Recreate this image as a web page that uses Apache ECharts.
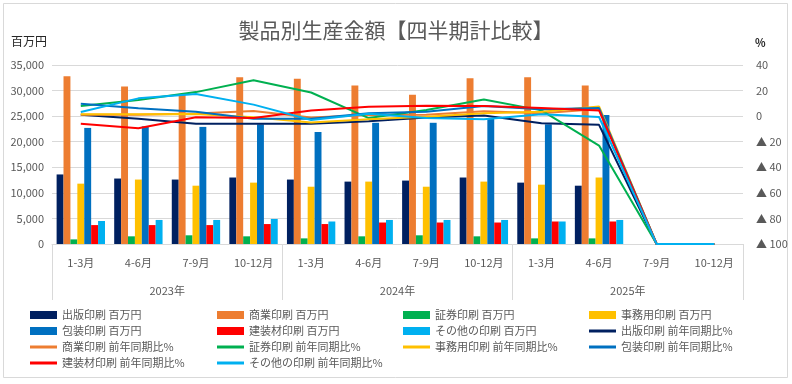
<!DOCTYPE html>
<html>
<head>
<meta charset="utf-8">
<script src="https://cdn.jsdelivr.net/npm/echarts@6/dist/echarts.min.js"></script>
<style>
html,body{margin:0;padding:0;background:#fff;}
#chart{width:792px;height:384px;}
</style>
</head>
<body>
<div id="chart"></div>
<script>
// ---- data ----
const quarters = ['1-3月','4-6月','7-9月','10-12月','1-3月','4-6月','7-9月','10-12月','1-3月','4-6月','7-9月','10-12月'];
const years = ['2023年','2024年','2025年'];
const leftTicks = [0, 35000, 5000];   // min, max, interval (百万円)
const rightTicks = [-100, 40, 20];    // min, max, interval (%)

const shuppanAmt  = [13600, 12800, 12600, 13000, 12600, 12200, 12400, 13000, 12000, 11400, 0, 0];
const shogyoAmt   = [32800, 30800, 29200, 32600, 32300, 31000, 29200, 32400, 32600, 31000, 0, 0];
const shokenAmt   = [900, 1500, 1700, 1500, 1100, 1500, 1700, 1500, 1100, 1100, 0, 0];
const jimuAmt     = [11800, 12600, 11400, 12000, 11200, 12200, 11200, 12200, 11600, 13000, 0, 0];
const hosoAmt     = [22700, 23000, 22900, 23400, 21900, 23700, 23700, 24500, 23400, 25200, 0, 0];
const kensoAmt    = [3700, 3700, 3700, 3900, 3900, 4200, 4200, 4200, 4400, 4400, 0, 0];
const sonotaAmt   = [4500, 4700, 4700, 4900, 4400, 4700, 4700, 4700, 4400, 4700, 0, 0];

const shuppanYoy  = [1, -2, -6, -6, -6, -4, -1, 0.5, -5.6, -6.8, -100, -100];
const shogyoYoy   = [1, 1, 2, 4, -1, 0.9, 1, 3.8, 2.2, 5.5, -100, -100];
const shokenYoy   = [7.9, 12.6, 18.8, 28, 18.5, -1.5, 4.8, 13.1, 4.5, -23, -100, -100];
const jimuYoy     = [1.4, 1.4, 1.6, -0.8, -5, -2.5, -0.4, 2.2, 3.4, 7.6, -100, -100];
const hosoYoy     = [9.7, 6.1, 3.4, -2, -2, 2.2, 3.4, 8, 5.4, 6.3, -100, -100];
const kensoYoy    = [-5.9, -9.4, -0.8, -1.5, 4.5, 7.4, 8.1, 7.9, 6.4, 4.5, -100, -100];
const sonotaYoy   = [3.3, 13.9, 17.4, 9, -3, 1.8, -1.5, -2.5, 1.5, -0.7, -100, -100];

const names = ['出版印刷','商業印刷','証券印刷','事務用印刷','包装印刷','建装材印刷','その他の印刷'];
const colors = ['#002060','#ED7D31','#00B050','#FFC000','#0070C0','#FF0000','#00B0F0'];
const amounts = [shuppanAmt, shogyoAmt, shokenAmt, jimuAmt, hosoAmt, kensoAmt, sonotaAmt];
const yoys = [shuppanYoy, shogyoYoy, shokenYoy, jimuYoy, hosoYoy, kensoYoy, sonotaYoy];

const FONT = '"Noto Sans CJK JP", "Noto Sans", sans-serif';
const GRAY = '#595959';
const AMT = ' 百万円', YOY = ' 前年同期比%';

const series = [];
names.forEach((n, i) => {
  series.push({
    name: n + AMT, type: 'bar', xAxisIndex: 0, yAxisIndex: 0,
    data: amounts[i], itemStyle: { color: colors[i] },
    barGap: '0%', barCategoryGap: '16%'
  });
});
names.forEach((n, i) => {
  series.push({
    name: n + YOY, type: 'line', xAxisIndex: 0, yAxisIndex: 1,
    data: yoys[i], symbol: 'none', showSymbol: false,
    itemStyle: { color: colors[i] },
    lineStyle: { color: colors[i], width: 2 }
  });
});

// legend grid: 4 columns, rows of 16px
const legendCols = [
  [names[0]+AMT, names[4]+AMT, names[1]+YOY, names[5]+YOY],
  [names[1]+AMT, names[5]+AMT, names[2]+YOY, names[6]+YOY],
  [names[2]+AMT, names[6]+AMT, names[3]+YOY],
  [names[3]+AMT, names[0]+YOY, names[4]+YOY]
];
const legendLeft = [30, 217, 403, 589];
const ROW = 16, LTOP = 307;
const legends = [];
legendCols.forEach((col, k) => {
  const bars = col.filter(n => n.endsWith(AMT));
  const lines = col.filter(n => n.endsWith(YOY));
  const base = { orient: 'vertical', left: legendLeft[k], padding: 0, itemWidth: 27, itemGap: 0,
    textStyle: { fontSize: 11, color: GRAY, fontFamily: FONT, lineHeight: ROW }, selectedMode: false };
  if (bars.length) legends.push(Object.assign({}, base, { top: LTOP, itemHeight: 8, icon: 'rect', data: bars }));
  if (lines.length) legends.push(Object.assign({}, base, { top: LTOP + ROW * bars.length, itemHeight: 3, icon: 'rect', data: lines }));
});

const chart = echarts.init(document.getElementById('chart'), null, { renderer: 'canvas' });
chart.setOption({
  animation: false,
  backgroundColor: '#ffffff',
  title: {
    text: '製品別生産金額【四半期計比較】', left: 'center', top: 20, padding: 0,
    textStyle: { fontSize: 21, fontWeight: 'normal', color: GRAY, fontFamily: FONT }
  },
  legend: legends,
  grid: { left: 52, right: 49, top: 65, bottom: 140, containLabel: false },
  xAxis: [
    {
      type: 'category', data: quarters, position: 'bottom',
      axisLine: { show: true, onZero: false, lineStyle: { color: '#D9D9D9', width: 1 } },
      axisTick: { show: false },
      axisLabel: { margin: 13, fontSize: 11, color: GRAY, fontFamily: FONT, interval: 0 },
      splitLine: { show: false }
    },
    {
      type: 'category', data: years, position: 'bottom', offset: 0,
      axisLine: { show: false, onZero: false },
      axisTick: { show: true, inside: false, length: 56, interval: 0, lineStyle: { color: '#D9D9D9' } },
      axisLabel: { margin: 41, fontSize: 11, color: GRAY, fontFamily: FONT, interval: 0 },
      splitLine: { show: false }
    }
  ],
  yAxis: [
    {
      type: 'value', min: leftTicks[0], max: leftTicks[1], interval: leftTicks[2],
      axisLine: { show: false }, axisTick: { show: false },
      axisLabel: { margin: 8, fontSize: 11, color: GRAY, fontFamily: FONT,
        formatter: v => v.toLocaleString('en-US') },
      splitLine: { show: true, lineStyle: { color: '#D9D9D9', width: 1 } }
    },
    {
      type: 'value', min: rightTicks[0], max: rightTicks[1], interval: rightTicks[2],
      position: 'right',
      axisLine: { show: false }, axisTick: { show: false },
      axisLabel: { margin: 13, fontSize: 11, color: GRAY, fontFamily: FONT,
        formatter: v => v < 0 ? '▲ ' + (-v) : String(v) },
      splitLine: { show: false }
    }
  ],
  graphic: [
    { type: 'rect', shape: { x: 3.5, y: 3.5, width: 784, height: 374 }, style: { fill: 'none', stroke: '#D9D9D9', lineWidth: 1 }, z: -10 },
    { type: 'text', left: 11, top: 35, style: { text: '百万円', fill: '#262626', font: '12px ' + FONT } },
    { type: 'text', left: 755, top: 37, style: { text: '%', fill: '#262626', font: 'bold 11px ' + FONT } }
  ],
  series: series
});
</script>
</body>
</html>
